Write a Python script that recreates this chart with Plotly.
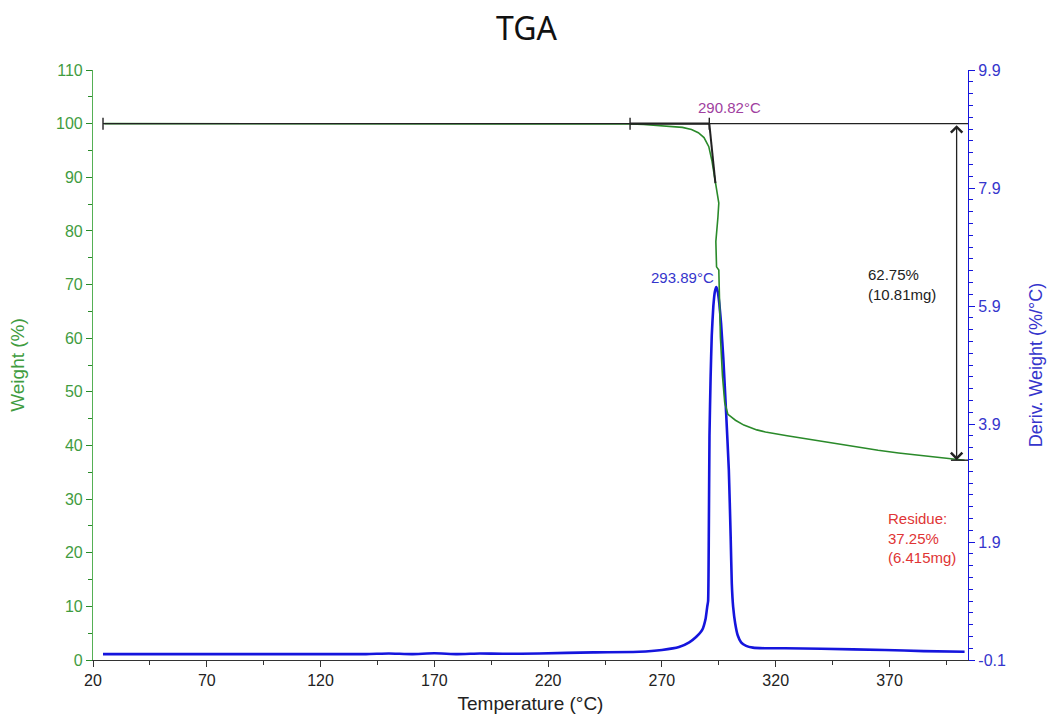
import plotly.graph_objects as go

# Weight loss curve (TGA), temperature in °C, weight in %
temp_w = [25, 50, 100, 150, 200, 240, 256, 262, 268, 274, 279, 283, 286, 288.5,
          290.6, 292.0, 292.8, 293.6, 294.4, 295.0, 294.6, 293.9, 293.7, 294.0,
          295.0, 295.7, 296.6, 297.6, 299.0, 302.3, 306, 311.7, 315.5, 325, 335,
          344.6, 355, 365, 374, 385, 393, 400.3, 403]
weight = [100, 100, 100, 100, 100, 100, 99.95, 99.85, 99.7, 99.5, 99.3, 98.9,
          98.3, 97.4, 95.7, 93.0, 90.8, 88.5, 86.8, 85.2, 82.5, 79.5, 78.0, 73.3,
          72.7, 60.2, 53.0, 48.0, 45.8, 44.7, 43.8, 42.9, 42.5, 41.8, 41.1, 40.4,
          39.7, 39.1, 38.6, 38.1, 37.7, 37.4, 37.25]

# Derivative weight curve (DTG), %/°C
temp_d = [24.4, 60, 100, 140, 150, 160, 170, 180, 190, 200, 216, 240, 260, 270,
          277.5, 282, 285, 287.7, 289.2, 289.9, 290.3, 290.6, 290.9, 291.4, 291.9,
          292.6, 293.3, 293.89, 294.5, 295.2, 296.0, 297.0, 298.2, 299.4, 300.2,
          300.7, 301.3, 302.2, 303.3, 304.8, 307, 310, 315, 324, 340, 368, 385, 403]
deriv = [0.0, 0.0, 0.0, 0.0, 0.01, 0.0, 0.015, 0.0, 0.01, 0.005, 0.01, 0.03, 0.04,
         0.07, 0.12, 0.2, 0.29, 0.41, 0.6, 0.8, 0.9, 2.0, 3.7, 4.7, 5.4, 5.9,
         6.15, 6.22, 6.15, 5.95, 5.6, 5.0, 4.1, 3.12, 2.0, 1.2, 0.8, 0.52, 0.32,
         0.2, 0.14, 0.11, 0.1, 0.1, 0.09, 0.07, 0.05, 0.04]

# Analysis markers
baseline_start = 24.4
onset_start = 256.0
onset_temp = 290.82
onset_tangent_end = (293.5, 88.9)
peak_temp = 293.89
peak_deriv = 6.22
step_x = 399.5
step_top = 100.0
residue = 37.25
loss_text = "62.75%<br>(10.81mg)"
residue_text = "Residue:<br>37.25%<br>(6.415mg)"

x_ticks = [20, 70, 120, 170, 220, 270, 320, 370]
w_ticks = list(range(0, 111, 10))
d_ticks = [-0.1, 1.9, 3.9, 5.9, 7.9, 9.9]
d_labels = ["-0.1", "1.9", "3.9", "5.9", "7.9", "9.9"]
x_range = [20, 404.5]

GREEN = "#2a8a2a"
GREEN_TXT = "#3f9c3f"
BLUE = "#1515dd"
BLUE_TXT = "#3535cc"
FONT = "Liberation Sans, Arial, sans-serif"

fig = go.Figure()
fig.add_trace(go.Scatter(x=temp_d, y=deriv, mode="lines", yaxis="y",
                         line=dict(color=BLUE, width=2.6, shape="spline",
                                   smoothing=0.4),
                         hoverinfo="skip", showlegend=False))
fig.add_trace(go.Scatter(x=temp_w, y=weight, mode="lines", yaxis="y2",
                         line=dict(color=GREEN, width=1.6), hoverinfo="skip",
                         showlegend=False))

shapes = []
blk = dict(color="#222222", width=1.4)
# 100 % baseline across the run
shapes.append(dict(type="line", xref="x", yref="y2", x0=baseline_start, x1=x_range[1],
                   y0=step_top, y1=step_top, line=blk))
shapes.append(dict(type="line", xref="x", yref="y2", x0=onset_start, x1=onset_temp,
                   y0=step_top, y1=step_top, line=dict(color="#222222", width=2.2)))
# bracket ticks on the baseline
for xv in (baseline_start, onset_start, onset_temp):
    shapes.append(dict(type="line", xref="x", yref="y2", ysizemode="pixel",
                       yanchor=step_top, x0=xv, x1=xv, y0=-6, y1=6, line=blk))
# onset tangent
shapes.append(dict(type="line", xref="x", yref="y2", x0=onset_temp,
                   x1=onset_tangent_end[0], y0=step_top, y1=onset_tangent_end[1],
                   line=dict(color="#222222", width=2)))
# residue level tick
shapes.append(dict(type="line", xref="x", yref="y2", x0=step_x - 2.5, x1=x_range[1],
                   y0=residue, y1=residue, line=blk))
fig.update_layout(shapes=shapes)

ann_font = dict(family=FONT, size=15)
annotations = [
    # weight-loss step double arrow
    dict(x=step_x, y=residue, xref="x", yref="y2", ax=step_x, ay=step_top,
         axref="x", ayref="y2", text="", showarrow=True, arrowhead=4,
         startarrowhead=4, arrowside="end+start", arrowsize=1.7, arrowwidth=1.3,
         arrowcolor="#222222", startarrowsize=1.7),
    dict(x=onset_temp, y=step_top, xref="x", yref="y2", text="290.82°C",
         showarrow=False, xshift=20, yshift=16,
         font=dict(ann_font, color="#a040a0")),
    dict(x=peak_temp, y=peak_deriv, xref="x", yref="y", text="293.89°C",
         showarrow=False, xanchor="right", xshift=0, yshift=10,
         font=dict(ann_font, color=BLUE_TXT)),
    dict(x=359.5, y=70, xref="x", yref="y2", text=loss_text, showarrow=False,
         xanchor="left", align="left", font=dict(ann_font, color="#222222")),
    dict(x=368.3, y=22.7, xref="x", yref="y2", text=residue_text, showarrow=False,
         xanchor="left", align="left", font=dict(ann_font, color="#e03535")),
]
fig.update_layout(annotations=annotations)

tick_font = dict(family=FONT, size=16)
fig.update_layout(
    width=1053, height=720,
    margin=dict(l=93, r=85, t=70, b=60, autoexpand=False),
    paper_bgcolor="white", plot_bgcolor="white",
    title=dict(text="TGA", x=0.5, xanchor="center", y=1 - 29 / 720,
               yanchor="middle", yref="container",
               font=dict(family="Noto Sans, sans-serif", size=32, color="#111111")),
    xaxis=dict(range=x_range, tickvals=x_ticks, ticks="outside", ticklen=6,
               tickcolor="#333333", showline=True, linecolor="#333333",
               linewidth=1.2, showgrid=False, zeroline=False, automargin=False,
               tickfont=dict(tick_font, color="#222222"),
               minor=dict(ticks="outside", ticklen=4, dtick=25, tick0=20,
                          tickcolor="#333333", showgrid=False),
               title=dict(text="Temperature (°C)", standoff=8,
                          font=dict(family=FONT, size=19, color="#222222"))),
    yaxis=dict(range=[-0.1, 9.9], side="right", tickvals=d_ticks,
               ticktext=d_labels, ticks="outside", ticklen=6, tickcolor=BLUE,
               showline=True, linecolor=BLUE, linewidth=1.2, showgrid=False,
               zeroline=False, automargin=False,
               tickfont=dict(tick_font, color=BLUE_TXT),
               minor=dict(ticks="outside", ticklen=4, dtick=0.2, tick0=-0.1,
                          tickcolor=BLUE, showgrid=False),
               title=dict(text="Deriv. Weight (%/°C)", standoff=24,
                          font=dict(family=FONT, size=18, color=BLUE_TXT))),
    yaxis2=dict(range=[0, 110], side="left", overlaying="y", tickvals=w_ticks,
                ticks="outside", ticklen=6, tickcolor=GREEN, showline=True,
                linecolor="#55b055", linewidth=1.2, showgrid=False,
                zeroline=False, automargin=False,
                tickfont=dict(tick_font, color=GREEN_TXT),
                minor=dict(ticks="outside", ticklen=4, dtick=5, tick0=0,
                           tickcolor=GREEN, showgrid=False),
                title=dict(text="Weight (%)", standoff=26,
                           font=dict(family=FONT, size=19, color=GREEN_TXT))),
)

fig.write_html("out.html")
